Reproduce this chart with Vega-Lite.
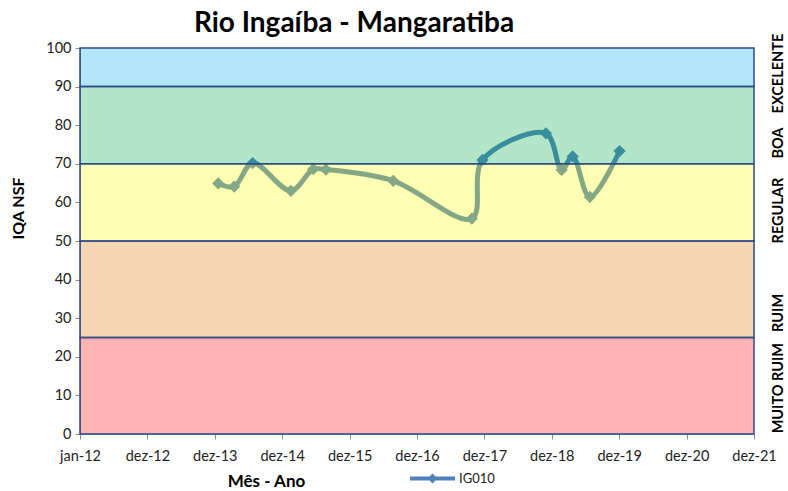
{
  "$schema": "https://vega.github.io/schema/vega-lite/v6.json",
  "width": 674,
  "height": 386,
  "autosize": "none",
  "padding": {"left": 80, "top": 48, "right": 34, "bottom": 57},
  "background": "white",
  "title": {"text": "Rio Ingaíba - Mangaratiba", "font": "Lato", "fontSize": 28, "fontWeight": "bold", "color": "#000000", "anchor": "middle", "dx": -63, "dy": 38, "offset": 11, "baseline": "alphabetic"},
  "config": {"view": {"stroke": null}},
  "resolve": {"axis": {"y": "independent"}},
  "layer": [
    {
      "data": {"values": [
        {"date": "2014-01-19", "iqa": 64.9},
        {"date": "2014-04-15", "iqa": 64.1},
        {"date": "2014-07-24", "iqa": 70.2},
        {"date": "2015-02-16", "iqa": 63.0},
        {"date": "2015-06-17", "iqa": 68.6},
        {"date": "2015-08-25", "iqa": 68.5},
        {"date": "2016-08-23", "iqa": 65.6},
        {"date": "2017-10-23", "iqa": 55.8},
        {"date": "2017-12-20", "iqa": 71.0},
        {"date": "2018-11-28", "iqa": 77.9},
        {"date": "2019-02-21", "iqa": 68.4},
        {"date": "2019-04-22", "iqa": 71.9},
        {"date": "2019-07-24", "iqa": 61.4},
        {"date": "2020-01-01", "iqa": 73.3}
      ]},
      "mark": {"type": "line", "interpolate": "catmull-rom", "strokeWidth": 5, "point": {"shape": "diamond", "filled": true, "size": 150}},
      "encoding": {
        "x": {
          "field": "date", "type": "temporal",
          "scale": {"type": "utc", "domain": [
            {"year": 2012, "month": 1, "date": 1, "utc": true},
            {"year": 2021, "month": 12, "date": 29, "utc": true}
          ]},
          "axis": {
            "values": [
              {"year": 2012, "month": 1, "date": 1, "utc": true},
              {"year": 2012, "month": 12, "date": 31, "utc": true},
              {"year": 2013, "month": 12, "date": 31, "utc": true},
              {"year": 2014, "month": 12, "date": 31, "utc": true},
              {"year": 2015, "month": 12, "date": 31, "utc": true},
              {"year": 2016, "month": 12, "date": 30, "utc": true},
              {"year": 2017, "month": 12, "date": 30, "utc": true},
              {"year": 2018, "month": 12, "date": 30, "utc": true},
              {"year": 2019, "month": 12, "date": 30, "utc": true},
              {"year": 2020, "month": 12, "date": 29, "utc": true},
              {"year": 2021, "month": 12, "date": 29, "utc": true}
            ],
            "labelExpr": "['jan','fev','mar','abr','mai','jun','jul','ago','set','out','nov','dez'][utcmonth(datum.value)] + '-' + utcFormat(datum.value, '%y')",
            "labelFont": "Lato", "labelFontSize": 14.5, "labelColor": "#222222", "labelPadding": 10,
            "labelOverlap": false, "labelFlush": false,
            "grid": false, "domainColor": "#8c8c8c", "tickColor": "#8c8c8c", "tickSize": 5,
            "title": "Mês - Ano", "titleFont": "Lato", "titleFontSize": 17, "titleFontWeight": "bold", "titleColor": "#000000",
            "titleX": 186, "titleY": 47, "titleAlign": "center", "titleBaseline": "middle"
          }
        },
        "y": {
          "field": "iqa", "type": "quantitative",
          "scale": {"domain": [0, 100]},
          "axis": {
            "values": [0, 10, 20, 30, 40, 50, 60, 70, 80, 90, 100],
            "labelFont": "Lato", "labelFontSize": 14.5, "labelColor": "#222222", "labelPadding": 4,
            "grid": false, "domainColor": "#8c8c8c", "tickColor": "#8c8c8c", "tickSize": 5,
            "title": "IQA NSF", "titleFont": "Lato", "titleFontSize": 16, "titleFontWeight": "bold", "titleColor": "#000000",
            "titleX": -62, "titleY": 160, "titleAlign": "center", "titleBaseline": "middle"
          }
        },
        "color": {
          "datum": "IG010", "type": "nominal",
          "scale": {"range": ["#4F81BD"]},
          "legend": {
            "orient": "none", "legendX": 330, "legendY": 408, "title": null,
            "labelFont": "Lato", "labelFontSize": 13, "labelColor": "#222222",
            "symbolType": "M-1,-0.09L1,-0.09L1,0.09L-1,0.09Z M0,-0.22L0.22,0L0,0.22L-0.22,0Z",
            "symbolSize": 2025,
            "encode": {"symbols": {"update": {"fill": {"value": "#4F81BD"}, "stroke": {"value": "#4F81BD"}, "strokeWidth": {"value": 0}}}}
          }
        }
      }
    },
    {
      "data": {"values": [
        {"band": "MUITO RUIM", "lo": 0, "hi": 25},
        {"band": "RUIM", "lo": 25, "hi": 50},
        {"band": "REGULAR", "lo": 50, "hi": 70},
        {"band": "BOA", "lo": 70, "hi": 90},
        {"band": "EXCELENTE", "lo": 90, "hi": 100}
      ]},
      "mark": {"type": "rect", "fillOpacity": 0.3, "stroke": "#2E4A8A", "strokeWidth": 1.5, "strokeOpacity": 1},
      "encoding": {
        "y": {
          "field": "lo", "type": "quantitative",
          "axis": {
            "orient": "right",
            "values": [12, 31.5, 58, 75.5, 93.5],
            "labelExpr": "datum.value == 93.5 ? 'EXCELENTE' : datum.value == 75.5 ? 'BOA' : datum.value == 58 ? 'REGULAR' : datum.value == 31.5 ? 'RUIM' : 'MUITO RUIM'",
            "labelAngle": 270, "labelAlign": "center", "labelBaseline": "top", "labelPadding": 17,
            "labelFont": "Lato", "labelFontSize": 14.5, "labelFontWeight": "bold", "labelColor": "#000000",
            "labelOverlap": false, "labelFlush": false,
            "ticks": false, "domain": false, "grid": false, "title": null
          }
        },
        "y2": {"field": "hi"},
        "fill": {
          "field": "band", "type": "nominal",
          "scale": {"domain": ["MUITO RUIM", "RUIM", "REGULAR", "BOA", "EXCELENTE"], "range": ["#FF0202", "#DE7308", "#FFFF02", "#02AC48", "#02ACE8"]},
          "legend": null
        }
      }
    }
  ]
}
